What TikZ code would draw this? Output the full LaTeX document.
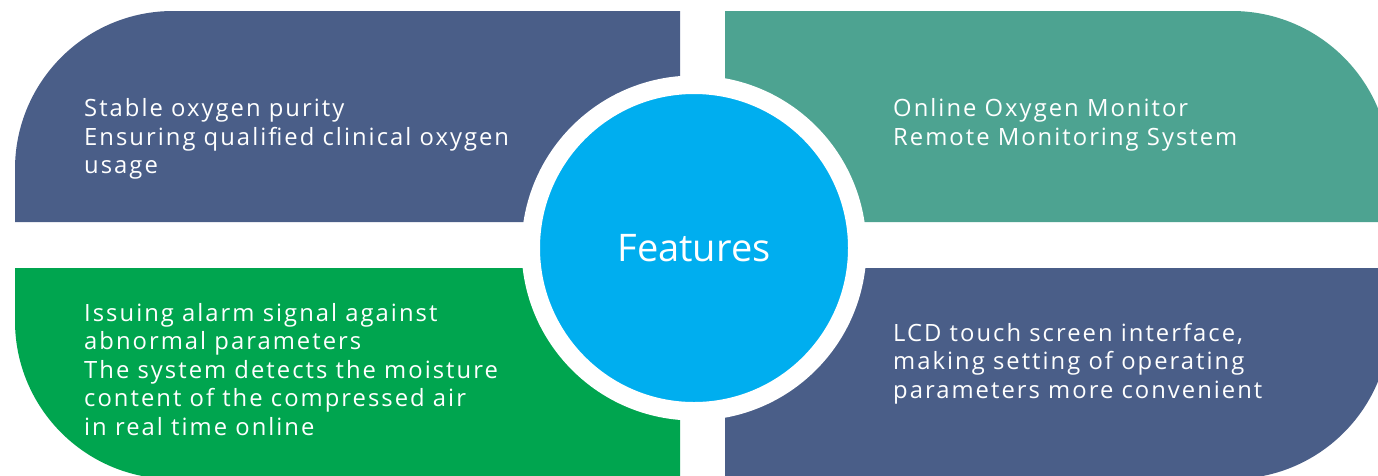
\documentclass[tikz,border=0pt]{standalone}
\usepackage{fontspec}
\setmainfont{Open Sans}
\definecolor{navy}{HTML}{4A5E88}
\definecolor{teal}{HTML}{4DA391}
\definecolor{grn}{HTML}{00A54F}
\definecolor{sky}{HTML}{00AEEF}
\newfontfamily\spaced[LetterSpace=8.5]{Open Sans}
\tikzset{
  quad/.style={draw=none},
  body/.style={anchor=base west, inner sep=0pt, text=white, font=\spaced\fontsize{23.8}{28.5}\selectfont},
}
\newcommand{\txtlines}[1]{\parbox[t]{600pt}{\raggedright #1}}
\begin{document}
\begin{tikzpicture}[x=1pt,y=-1pt]
\useasboundingbox (0,0) rectangle (1378,475);
\fill[white] (0,0) rectangle (1378,475);
\clip (0,0) rectangle (1378,475);
\def\r{158}
% top-left
\fill[navy,quad] (15,222) -- (15,11+\r) arc (180:270:\r) -- (680,11) -- (680,222) -- cycle;
% top-right
\fill[teal,quad] (725,222) -- (725,11) -- (1390-\r,11) arc (270:360:\r) -- (1390,222) -- cycle;
% bottom-left
\fill[grn,quad] (680,268) -- (15,268) -- (15,479-\r) arc (180:90:\r) -- (680,479) -- cycle;
% bottom-right
\fill[navy,quad] (725,268) -- (1390,268) -- (1390,479-\r) arc (0:90:\r) -- (725,479) -- cycle;

\node[body] (tl) at (84,116.7) {\txtlines{Stable oxygen purity\\Ensuring qualified clinical oxygen\\usage}};
\node[body] (tr) at (893,116.7) {\txtlines{Online Oxygen Monitor\\Remote Monitoring System}};
\node[body] (bl) at (84,321) {\txtlines{Issuing alarm signal against\\abnormal parameters\\The system detects the moisture\\content of the compressed air\\in real time online}};
\node[body] (br) at (893,341) {\txtlines{LCD touch screen interface,\\making setting of operating\\parameters more convenient}};

\node[circle, fill=sky, draw=white, line width=18.5pt, minimum size=326.5pt, inner sep=0pt,
      text=white, font=\fontsize{38}{46}\selectfont] (feat) at (694,248) {Features};
\end{tikzpicture}
\end{document}
